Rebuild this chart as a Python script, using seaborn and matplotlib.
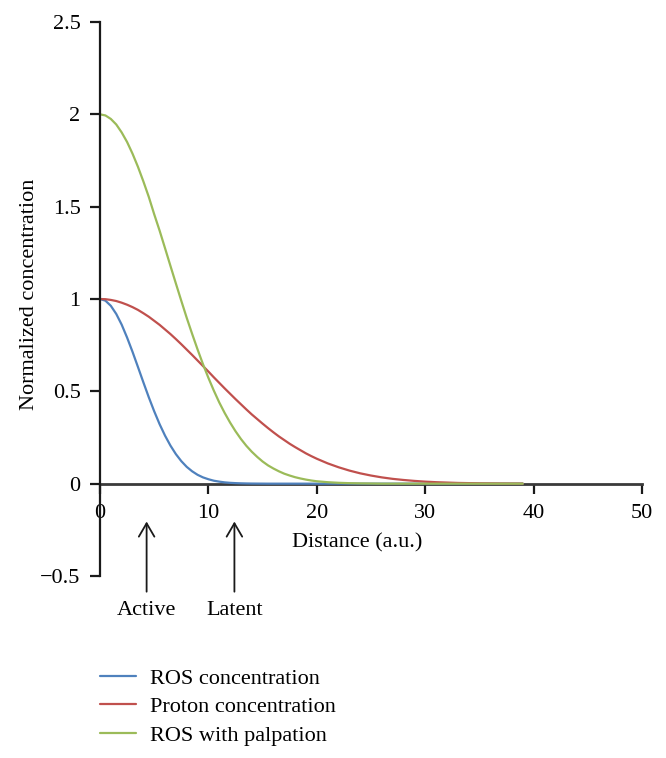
import numpy as np
import pandas as pd
import matplotlib
matplotlib.use("Agg")
import matplotlib.pyplot as plt
import seaborn as sns

distance = [i * 0.5 for i in range(0, 41)] + list(range(21, 40))
ros = [1.0, 0.991, 0.963, 0.919, 0.861, 0.791, 0.714, 0.632, 0.549, 0.468,
       0.392, 0.322, 0.260, 0.206, 0.160, 0.122, 0.091, 0.067, 0.048, 0.034,
       0.024, 0.016, 0.011, 0.007, 0.0045, 0.0029, 0.0018, 0.0011, 0.0006, 0.0004,
       0.0002] + [0.0] * 10 + [0.0] * 19
proton = [1.0, 0.999, 0.995, 0.989, 0.980, 0.969, 0.956, 0.941, 0.923, 0.904,
          0.882, 0.860, 0.835, 0.810, 0.783, 0.755, 0.726, 0.697, 0.667, 0.637,
          0.607, 0.576, 0.546, 0.516, 0.487, 0.458, 0.430, 0.402, 0.375, 0.350,
          0.325, 0.301, 0.278, 0.256, 0.236, 0.216, 0.198, 0.181, 0.164, 0.149,
          0.135,
          0.110, 0.089, 0.071, 0.056, 0.044, 0.034, 0.026, 0.020, 0.015, 0.011,
          0.008, 0.006, 0.004, 0.003, 0.002, 0.0015, 0.001, 0.0007, 0.0005]
palpation = [2.0, 1.994, 1.975, 1.945, 1.902, 1.850, 1.787, 1.716, 1.637, 1.553,
             1.459, 1.370, 1.275, 1.179, 1.084, 0.990, 0.898, 0.811, 0.727, 0.647,
             0.573, 0.504, 0.440, 0.383, 0.331, 0.284, 0.242, 0.205, 0.173, 0.145,
             0.120, 0.099, 0.082, 0.067, 0.054, 0.044, 0.035, 0.028, 0.022, 0.017,
             0.013,
             0.008, 0.0047, 0.0027, 0.0015, 0.0008] + [0.0] * 14
series_names = ["ROS concentration", "Proton concentration", "ROS with palpation"]
colors = ["#4F81BD", "#C0504D", "#9BBB59"]
x_ticks = [0, 10, 20, 30, 40, 50]
y_ticks = [-0.5, 0, 0.5, 1, 1.5, 2, 2.5]
y_tick_labels = ["\u22120.5", "0", "0.5", "1", "1.5", "2", "2.5"]
markers = [("Active", 4.3), ("Latent", 12.4)]

n = len(distance)
df = pd.DataFrame({
    "Distance": distance * 3,
    "Value": ros + proton + palpation,
    "Series": [series_names[0]] * n + [series_names[1]] * n + [series_names[2]] * n,
})

sns.set_style("ticks")
plt.rcParams["font.family"] = ["Liberation Serif", "DejaVu Serif"]
plt.rcParams["text.color"] = "black"
plt.rcParams["axes.labelcolor"] = "black"
FS = 16
plt.rcParams["font.size"] = FS

fig = plt.figure(figsize=(6.66, 7.58), dpi=100)
ax = fig.add_axes([100 / 666, (758 - 576) / 758, 542 / 666, (576 - 22) / 758])

sns.lineplot(data=df, x="Distance", y="Value", hue="Series",
             palette=dict(zip(series_names, colors)), linewidth=1.6, ax=ax,
             legend=True)

ax.set_xlim(0, 50)
ax.set_ylim(-0.5, 2.5)
ax.set_xticks(x_ticks)
ax.set_yticks(y_ticks)
ax.set_yticklabels(y_tick_labels)

ax.spines["top"].set_visible(False)
ax.spines["right"].set_visible(False)
ax.spines["bottom"].set_position(("data", 0))
ax.spines["bottom"].set_color("#3a3a3a")
ax.spines["left"].set_color("#1a1a1a")
ax.spines["bottom"].set_linewidth(2.0)
ax.spines["left"].set_linewidth(1.6)
ax.spines["bottom"].set_zorder(1)
ax.tick_params(axis="x", direction="out", length=7, width=1.6, color="#1a1a1a",
               labelcolor="black", pad=8, labelsize=FS)
ax.tick_params(axis="y", direction="out", length=7, width=1.6, color="#1a1a1a",
               labelcolor="black", pad=7, labelsize=FS)

ax.set_xlabel("Distance (a.u.)", fontsize=FS)
ax.xaxis.set_label_coords((357 - 100) / 542, (576 - 543) / 554)
ax.xaxis.label.set_va("center")
ax.set_ylabel("Normalized concentration", fontsize=FS)
ax.yaxis.set_label_coords(-(100 - 30) / 542, (576 - 294) / 554)
ax.yaxis.label.set_va("center")

for label, xv in markers:
    ax.annotate("", xy=(xv, -0.19), xytext=(xv, -0.60),
                arrowprops=dict(arrowstyle="->,head_length=0.6,head_width=0.35",
                                color="#1a1a1a", lw=1.3),
                annotation_clip=False)
    ax.text(xv, -0.685, label, ha="center", va="center", fontsize=FS,
            clip_on=False)

handles, labels = ax.get_legend_handles_labels()
ax.get_legend().remove()
fig.legend(handles, labels, loc="upper left",
           bbox_to_anchor=(89 / 666, 1 - 657 / 758), frameon=False,
           fontsize=FS, handlelength=1.6, handletextpad=0.65, labelspacing=0.36,
           borderpad=0.0)

fig.savefig("out.png", dpi=100)
